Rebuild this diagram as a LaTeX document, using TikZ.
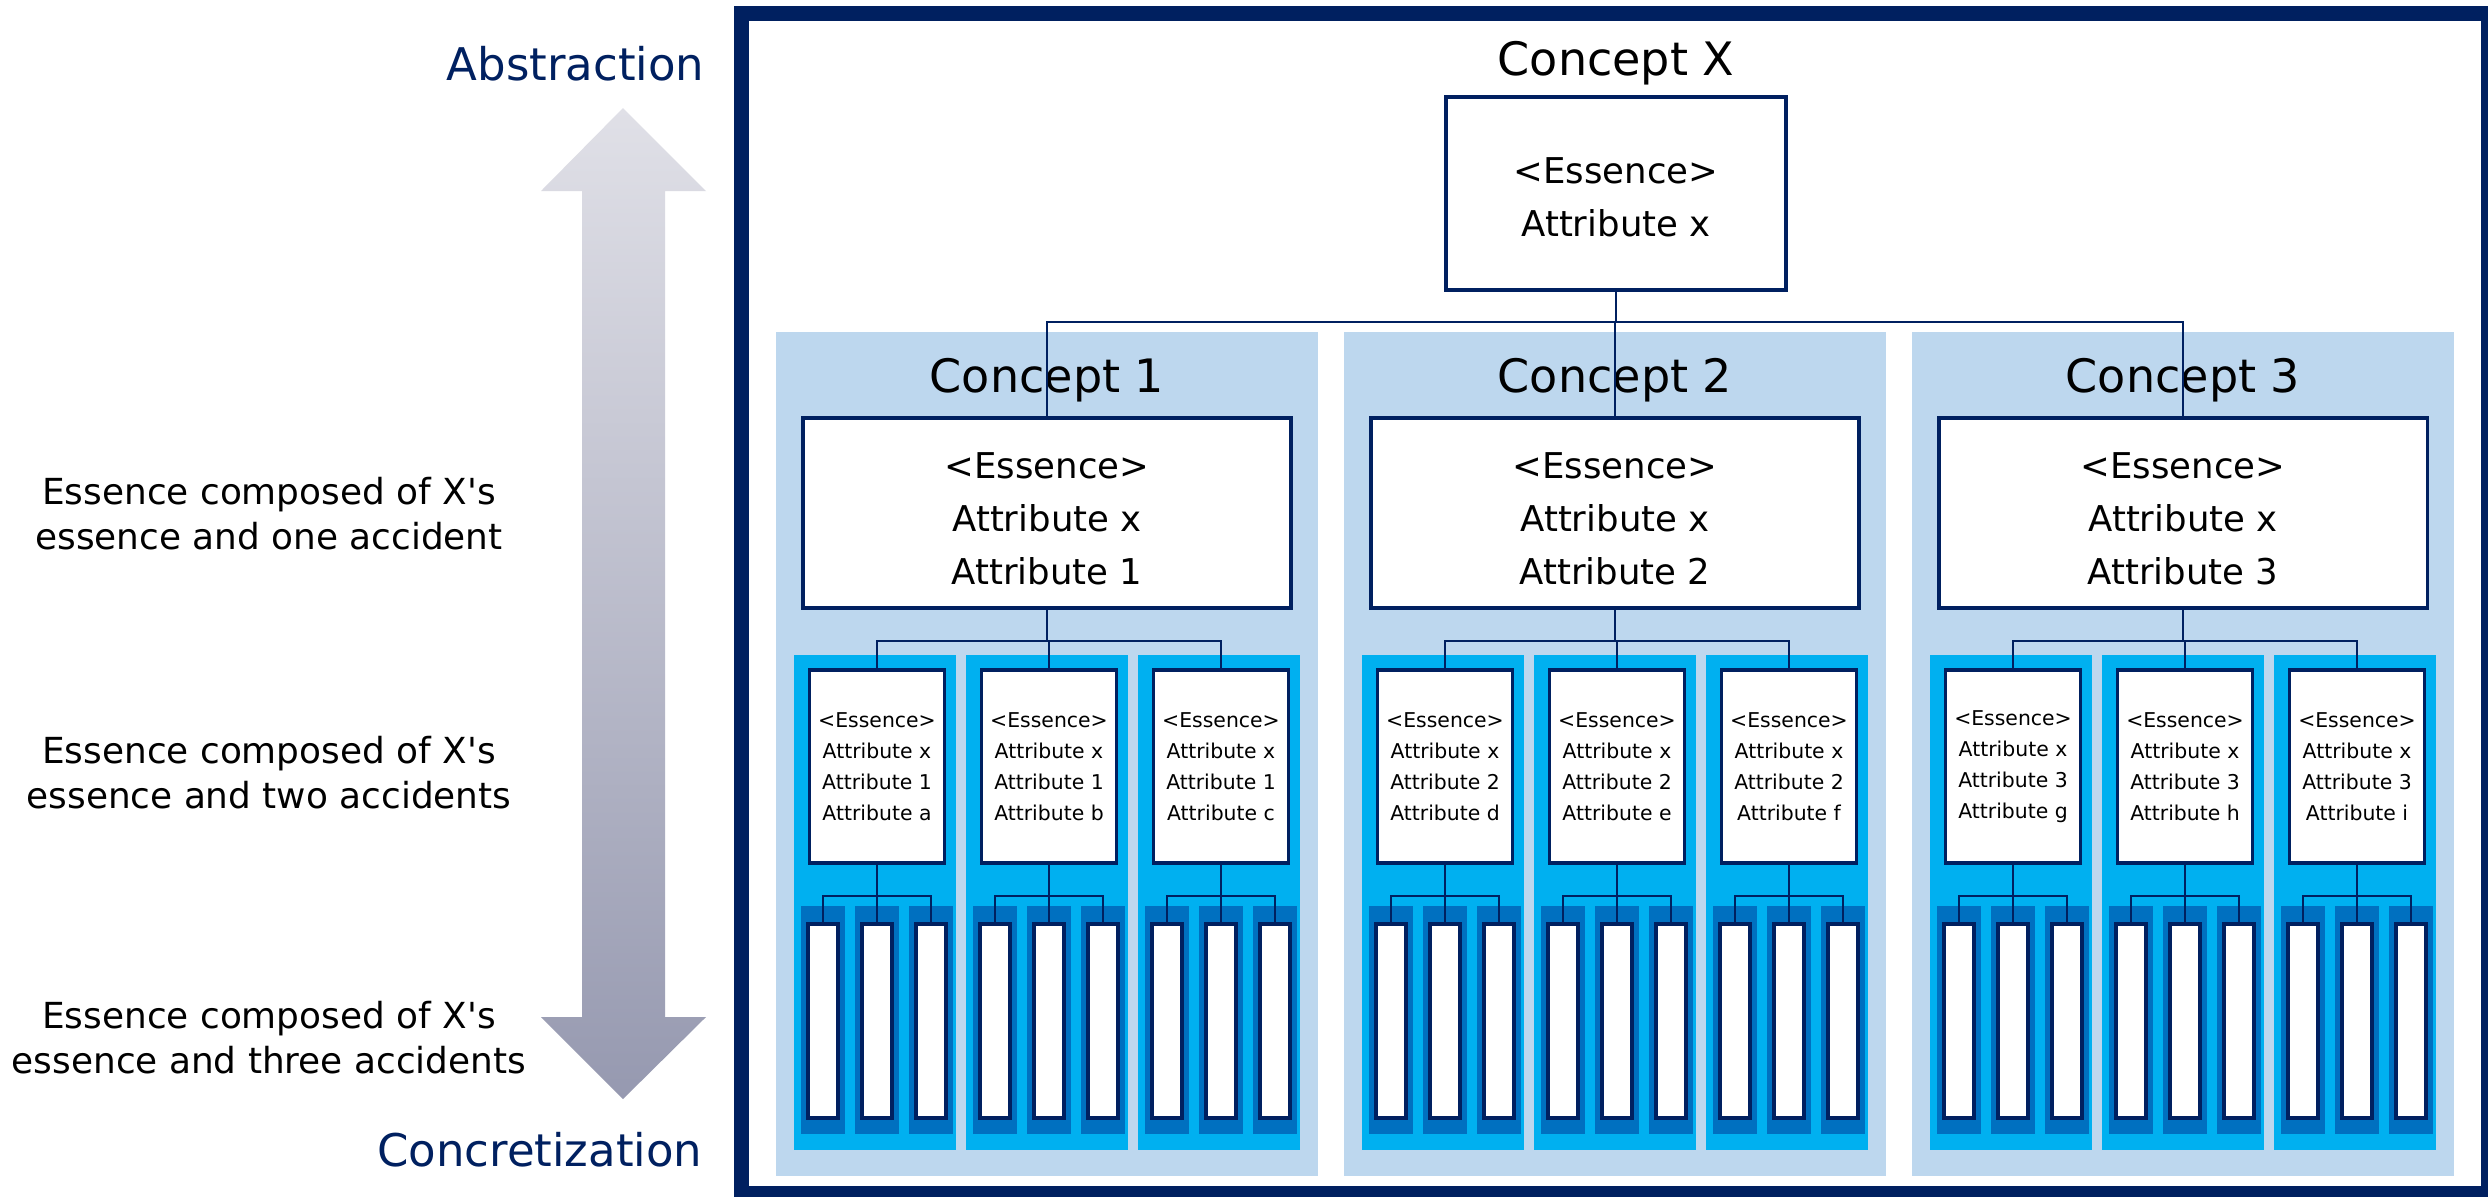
\documentclass[tikz,border=0pt]{standalone}
\usepackage{fontspec}
\setmainfont{DejaVu Sans}
\newfontfamily\plainfont{DejaVu Sans}
\usepackage{xcolor}
\usepackage{tikz}

\definecolor{navy}{HTML}{002060}
\definecolor{paleblue}{HTML}{BDD7EE}
\definecolor{skyblue}{HTML}{00B0F0}
\definecolor{deepblue}{HTML}{0070C0}
\definecolor{arrowtop}{HTML}{E0E0E7}
\definecolor{arrowbot}{HTML}{9699B0}

\tikzset{
  conceptbox/.style={draw=navy, line width=0.95pt, fill=white, inner sep=0pt, align=center, font=\fontsize{10.1}{15.1}\selectfont},
  topbox/.style={conceptbox, minimum width=3.4cm, minimum height=1.93cm},
  midbox/.style={conceptbox, minimum width=4.88cm, minimum height=1.9cm},
  subbox/.style={conceptbox, line width=1pt, minimum width=1.35cm, minimum height=1.93cm, font=\fontsize{5.8}{8.8}\selectfont},
  leafbox/.style={draw=navy, line width=1pt, fill=white, inner sep=0pt, minimum width=0.3cm, minimum height=1.94cm},
  link/.style={draw=navy, line width=0.63pt},
  heading/.style={inner sep=0pt, anchor=base, font=\fontsize{13.1}{15}\selectfont},
  sidelabel/.style={inner sep=0pt, align=center, font=\plainfont\fontsize{10.2}{12.8}\selectfont},
  axislabel/.style={inner sep=0pt, anchor=base east, text=navy, font=\fontsize{12.8}{15}\selectfont},
}

\begin{document}
\begin{tikzpicture}[x=0.01cm, y=-0.01cm]
    \useasboundingbox (0,0) rectangle (2488,1196);
    \clip (0,0) rectangle (2488,1196);
    \fill[white] (0,0) rectangle (2488,1196);

    % left side: direction arrow and levels
    \shade[top color=arrowtop, bottom color=arrowbot] (623,108) -- (706,191) -- (665,191) -- (665,1017) -- (706,1017)
        -- (623,1099) -- (541,1017) -- (582,1017) -- (582,191) -- (541,191) -- cycle;
    \node[axislabel] (abstr) at (705,80) {Abstraction};
    \node[axislabel] (concr) at (703,1166) {Concretization};
    \node[sidelabel] (lvl1) at (269,514) {Essence composed of X's\\essence and one accident};
    \node[sidelabel] (lvl2) at (269,773) {Essence composed of X's\\essence and two accidents};
    \node[sidelabel] (lvl3) at (269,1038) {Essence composed of X's\\essence and three accidents};

    % frame
    \draw[navy, line width=4.27pt] (741.5,13.5) rectangle (2488.5,1193.5);

    % concept X
    \node[heading] (xhead) at (1616,75) {Concept X};
    \node[topbox] (xbox) at (1616,193.5) {\rule{0pt}{9.6pt}<Essence>\\Attribute x};

    \foreach \i/\la/\lb/\lc in {1/a/b/c,2/d/e/f,3/g/h/i}{
        \pgfmathsetmacro\colx{1047+568*(\i-1)}
        \fill[paleblue] ({\colx-271},332) rectangle ({\colx+271},1176);
        \node[heading] (head\i) at (\colx,392) {Concept \i};
        \node[midbox] (cb\i) at (\colx,513) {\rule{0pt}{10.8pt}<Essence>\\Attribute x\\Attribute \i};
        \draw[link] (xbox.south) -- ++(0,30) -| (cb\i.north);
        \foreach \j/\l in {1/\la,2/\lb,3/\lc}{
            \pgfmathsetmacro\subx{\colx+172*(\j-2)}
            \fill[skyblue] ({\subx-81},655) rectangle ({\subx+81},1150);
            \node[subbox] (sb\i\j) at ({\subx+2},766.5) {<Essence>\\Attribute x\\Attribute \i\\Attribute \l};
            \draw[link] (cb\i.south) -- ++(0,31) -| (sb\i\j.north);
            \foreach \k in {1,2,3}{
                \fill[deepblue] ({\subx+2+54*(\k-2)-22},906) rectangle ({\subx+2+54*(\k-2)+22},1134);
                \node[leafbox] (lf\i\j\k) at ({\subx+2+54*(\k-2)},1021) {};
                \draw[link] (sb\i\j.south) -- ++(0,31) -| (lf\i\j\k.north);
            }
        }
    }
\end{tikzpicture}
\end{document}
